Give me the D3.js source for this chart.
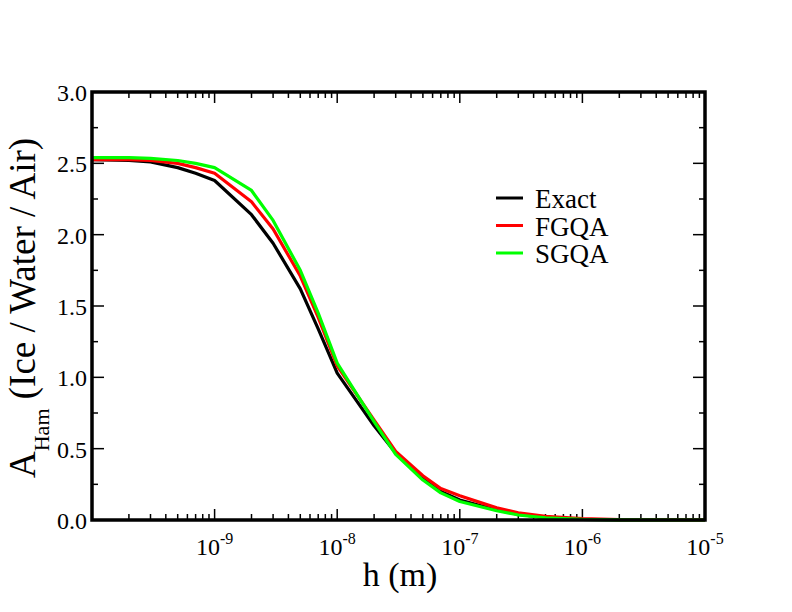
<!DOCTYPE html>
<html>
<head>
<meta charset="utf-8">
<script src="https://cdn.jsdelivr.net/npm/d3@7"></script>
<style>
  body { margin: 0; background: #fff; }
</style>
</head>
<body>
<svg id="chart" width="792" height="612"></svg>
<script>
// thickness h (m), sampled at the same points for every curve
var hValues = [1e-10, 2e-10, 3e-10, 5e-10, 7e-10, 1e-9, 2e-9, 3e-9, 5e-9, 7e-9,
  1e-8, 2e-8, 3e-8, 5e-8, 7e-8, 1e-7, 2e-7, 3e-7, 5e-7, 1e-6, 2e-6, 1e-5];

var exactValues = [2.525, 2.52, 2.51, 2.47, 2.43, 2.38, 2.14, 1.94, 1.62, 1.34,
  1.03, 0.66, 0.47, 0.29, 0.20, 0.14, 0.07, 0.04, 0.018, 0.005, 0.001, 0];
var fgqaValues = [2.525, 2.525, 2.52, 2.50, 2.47, 2.43, 2.23, 2.04, 1.71, 1.42,
  1.08, 0.70, 0.48, 0.31, 0.22, 0.17, 0.085, 0.05, 0.025, 0.01, 0.002, 0];
var sgqaValues = [2.54, 2.54, 2.535, 2.52, 2.50, 2.47, 2.31, 2.10, 1.75, 1.45,
  1.10, 0.69, 0.46, 0.28, 0.19, 0.13, 0.065, 0.035, 0.015, 0.004, 0.001, 0];

var seriesNames = ['Exact', 'FGQA', 'SGQA'];
var seriesColors = ['#000000', '#ff0000', '#00ff00'];

var xTicks = [1e-9, 1e-8, 1e-7, 1e-6, 1e-5];
var yTicks = [0, 0.5, 1.0, 1.5, 2.0, 2.5, 3.0];

var FONT = 'Liberation Serif';

var margin = {left: 92, right: 87, top: 92, bottom: 92};
var width = 792, height = 612;
var svg = d3.select('#chart');

var x = d3.scaleLog().domain([1e-10, 1e-5]).range([margin.left, width - margin.right]);
var y = d3.scaleLinear().domain([0, 3]).range([height - margin.bottom, margin.top]);

// minor ticks on the log axis: 2..9 of each decade
var xMinor = [];
for (var e = -10; e < -5; e++) {
  for (var m = 2; m <= 9; m++) xMinor.push(m * Math.pow(10, e));
}
var yMinor = d3.range(0.25, 3, 0.5);

var y0 = y(0), y3 = y(3), x0 = x.range()[0], x1 = x.range()[1];

var ticks = svg.append('g').attr('stroke', '#000').attr('stroke-width', 1.5);
// ticks on all four sides, pointing in
xTicks.concat([1e-10]).forEach(function (t) {
  ticks.append('line').attr('x1', x(t)).attr('x2', x(t)).attr('y1', y0).attr('y2', y0 - 11);
  ticks.append('line').attr('x1', x(t)).attr('x2', x(t)).attr('y1', y3).attr('y2', y3 + 11);
});
xMinor.forEach(function (t) {
  ticks.append('line').attr('x1', x(t)).attr('x2', x(t)).attr('y1', y0).attr('y2', y0 - 6);
  ticks.append('line').attr('x1', x(t)).attr('x2', x(t)).attr('y1', y3).attr('y2', y3 + 6);
});
yTicks.forEach(function (t) {
  ticks.append('line').attr('y1', y(t)).attr('y2', y(t)).attr('x1', x0).attr('x2', x0 + 12);
  ticks.append('line').attr('y1', y(t)).attr('y2', y(t)).attr('x1', x1).attr('x2', x1 - 12);
});
yMinor.forEach(function (t) {
  ticks.append('line').attr('y1', y(t)).attr('y2', y(t)).attr('x1', x0).attr('x2', x0 + 6);
  ticks.append('line').attr('y1', y(t)).attr('y2', y(t)).attr('x1', x1).attr('x2', x1 - 6);
});

// curves
var line = d3.line()
  .x(function (d) { return x(d[0]); })
  .y(function (d) { return y(d[1]); });

[exactValues, fgqaValues, sgqaValues].forEach(function (vals, i) {
  svg.append('path')
    .datum(hValues.map(function (h, j) { return [h, vals[j]]; }))
    .attr('d', line)
    .attr('fill', 'none')
    .attr('stroke', seriesColors[i])
    .attr('stroke-width', 3.2)
    .attr('stroke-linejoin', 'round');
});

// frame
svg.append('rect')
  .attr('x', x0).attr('y', y3)
  .attr('width', x1 - x0).attr('height', y0 - y3)
  .attr('fill', 'none').attr('stroke', '#000').attr('stroke-width', 3.5);

// tick labels
yTicks.forEach(function (t) {
  svg.append('text')
    .attr('x', x0 - 5).attr('y', y(t) + 9)
    .attr('text-anchor', 'end').attr('font-size', 24)
    .attr('font-family', FONT)
    .text(d3.format('.1f')(t));
});
xTicks.forEach(function (t) {
  var txt = svg.append('text')
    .attr('x', x(t)).attr('y', y0 + 35)
    .attr('text-anchor', 'middle').attr('font-size', 24)
    .attr('font-family', FONT);
  txt.append('tspan').text('10');
  txt.append('tspan').attr('dy', -11).attr('font-size', 16).text(Math.round(Math.log10(t)));
});

// axis titles
svg.append('text')
  .attr('x', 400).attr('y', 586)
  .attr('text-anchor', 'middle').attr('font-size', 34)
  .attr('font-family', FONT)
  .text('h (m)');

var yTitle = svg.append('text')
  .attr('transform', 'translate(35,478) rotate(-90)')
  .attr('text-anchor', 'start').attr('font-size', 37)
  .attr('font-family', FONT);
yTitle.append('tspan').text('A');
yTitle.append('tspan').attr('dy', 14).attr('font-size', 22).text('Ham');
yTitle.append('tspan').attr('dy', -14).text(' (Ice / Water / Air)');

// legend
var legend = svg.append('g').attr('transform', 'translate(496,198)');
seriesNames.forEach(function (name, i) {
  legend.append('line')
    .attr('x1', 0).attr('x2', 27)
    .attr('y1', i * 27.5).attr('y2', i * 27.5)
    .attr('stroke', seriesColors[i]).attr('stroke-width', 3);
  legend.append('text')
    .attr('x', 39).attr('y', i * 27.5 + 10)
    .attr('font-size', 27)
    .attr('font-family', FONT)
    .text(name);
});
</script>
</body>
</html>
